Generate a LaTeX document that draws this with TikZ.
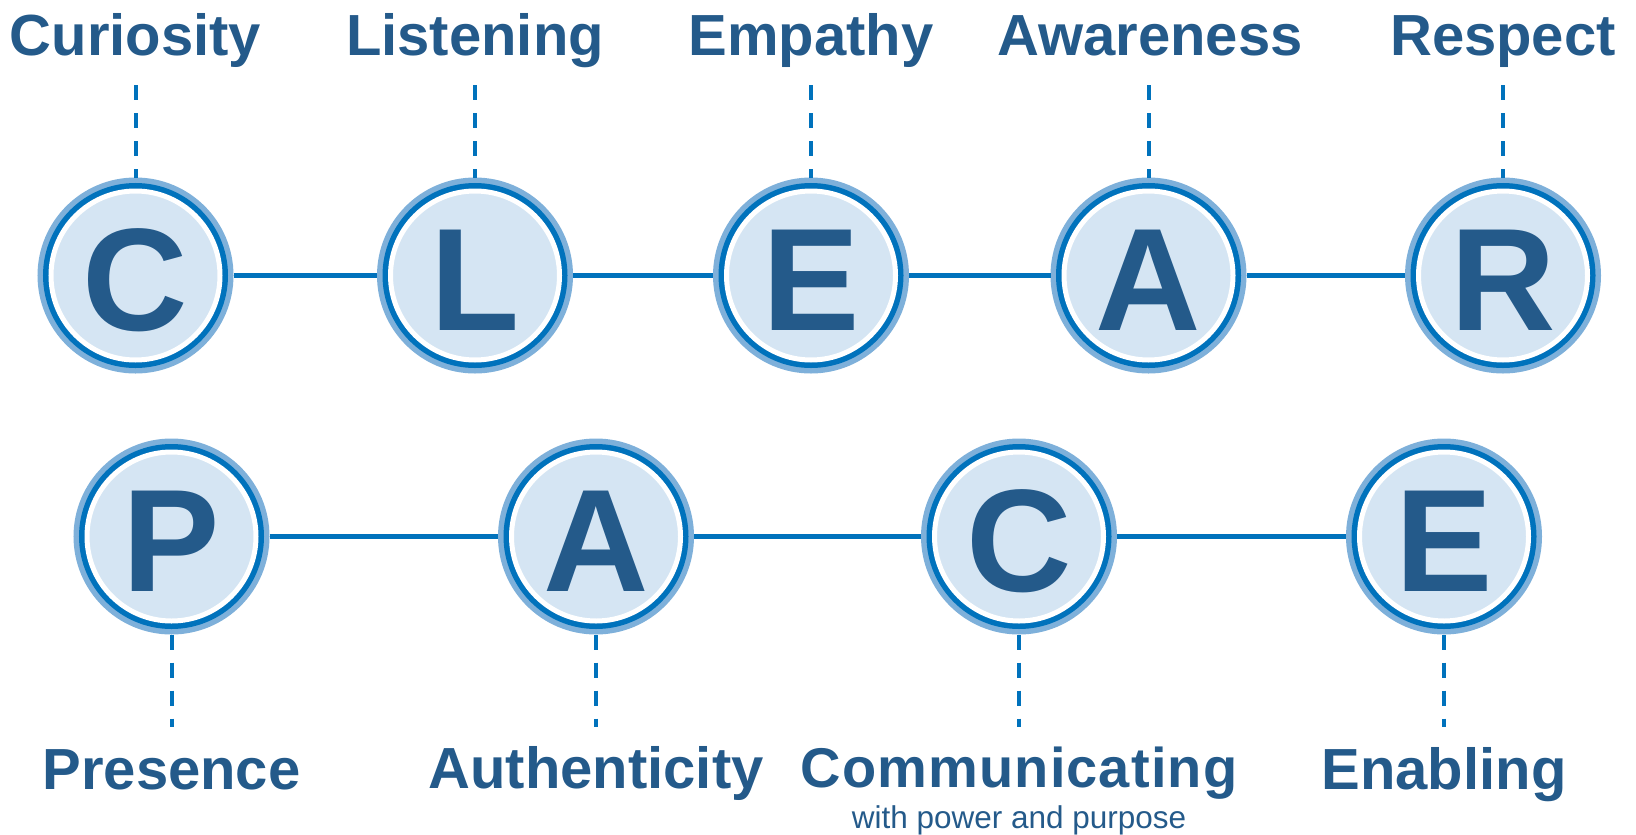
\documentclass[tikz,border=0pt]{standalone}
\usepackage{fontspec}
\setmainfont{Liberation Sans}
\definecolor{navy}{HTML}{245A8A}
\definecolor{ringdark}{HTML}{0072BC}
\definecolor{ringlight}{HTML}{7EB0DA}
\definecolor{ballfill}{HTML}{D5E5F3}
\begin{document}
\begin{tikzpicture}[x=1pt,y=-1pt,
  ball/.style={circle, minimum size=169pt, inner sep=0pt, outer sep=13.5pt,
    preaction={draw=ringlight, line width=27pt},
    preaction={draw=ringdark, line width=16pt},
    fill=ballfill, draw=white, line width=5pt,
    text=navy, font=\fontsize{146}{150}\selectfont\bfseries,
    text height=110pt, text depth=0pt},
  wordlab/.style={anchor=base, inner sep=0pt, text=navy,
    font=\fontsize{58}{60}\selectfont\bfseries},
  sublab/.style={anchor=base, inner sep=0pt, text=navy,
    font=\fontsize{31.5}{33}\selectfont},
  chain/.style={draw=ringdark, line width=5pt},
  tick/.style={draw=ringdark, line width=4pt, dash pattern=on 15pt off 13pt}]
\useasboundingbox (0,0) rectangle (1636,835);

% C L E A R row
\node[ball] (tC) at (135.5,275.5) {C};
\node[ball] (tL) at (475,275.5) {L};
\node[ball] (tE) at (811,275.5) {E};
\node[ball] (tA) at (1148.5,275.5) {A};
\node[ball] (tR) at (1503,275.5) {R};

% P A C E row
\node[ball] (bP) at (171.5,536.5) {P};
\node[ball] (bA) at (596,536.5) {A};
\node[ball] (bC) at (1019,536.5) {C};
\node[ball] (bE) at (1444,536.5) {E};

% links between the balls
\draw[chain] (tC) -- (tL);
\draw[chain] (tL) -- (tE);
\draw[chain] (tE) -- (tA);
\draw[chain] (tA) -- (tR);
\draw[chain] (bP) -- (bA);
\draw[chain] (bA) -- (bC);
\draw[chain] (bC) -- (bE);

% words above the first row
\node[wordlab] (wC) at (135.5,55) {Curiosity};
\node[wordlab] (wL) at (475,55) {Listening};
\node[wordlab] (wE) at (811,55) {Empathy};
\node[wordlab] (wA) at (1150,55) {Awareness};
\node[wordlab] (wR) at (1503,55) {Respect};

% words below the second row
\node[wordlab] (wP) at (171.5,789) {Presence};
\node[wordlab] (wA2) at (596,788) {Authenticity};
\node[wordlab, font=\fontsize{56}{58}\selectfont\bfseries\addfontfeatures{LetterSpace=2}] (wC2) at (1019,787) {Communicating};
\node[sublab] (sub) at (1019,828) {with power and purpose};
\node[wordlab] (wE2) at (1444,789) {Enabling};

% dashed ticks
\coordinate (kC) at (135.5,85);
\coordinate (kL) at (475,85);
\coordinate (kE) at (811,85);
\coordinate (kA) at (1148.5,85);
\coordinate (kR) at (1503,85);
\coordinate (kP) at (171.5,727);
\coordinate (kA2) at (596,727);
\coordinate (kC2) at (1019,727);
\coordinate (kE2) at (1444,727);
\draw[tick] (kC) -- (tC);
\draw[tick] (kL) -- (tL);
\draw[tick] (kE) -- (tE);
\draw[tick] (kA) -- (tA);
\draw[tick] (kR) -- (tR);
\draw[tick] (bP) -- (kP);
\draw[tick] (bA) -- (kA2);
\draw[tick] (bC) -- (kC2);
\draw[tick] (bE) -- (kE2);
\end{tikzpicture}
\end{document}
